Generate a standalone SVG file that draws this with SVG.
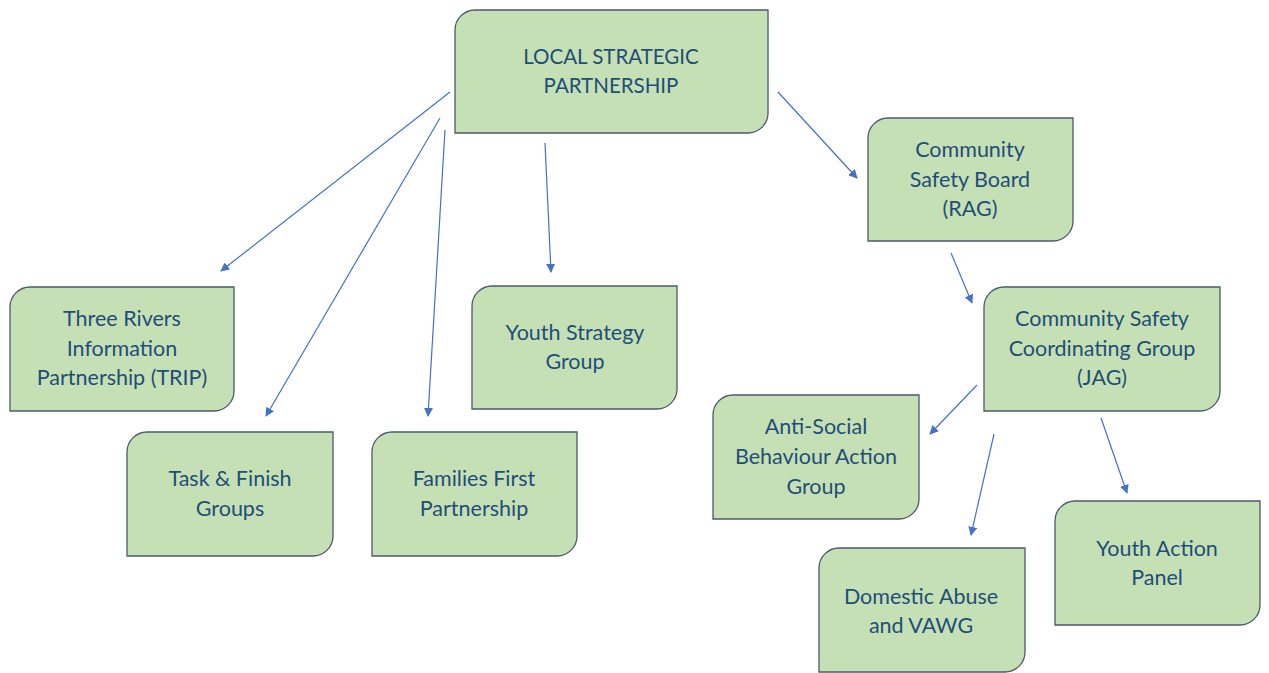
<svg xmlns="http://www.w3.org/2000/svg" width="1269" height="673" viewBox="0 0 1269 673">
<style>
.box{fill:#C5E0B4;stroke:#4A5A6E;stroke-width:1.3}
.t{font-family:Lato,"Liberation Sans",sans-serif;font-size:21.5px;fill:#1F4E79;text-anchor:middle;dominant-baseline:central}
.caps{font-size:20.5px}
.c{stroke:#4472C4;stroke-width:1.2;fill:none;marker-end:url(#ah)}
</style>
<defs>
<marker id="ah" viewBox="0 0 10 10" refX="9" refY="5" markerWidth="9" markerHeight="9" markerUnits="userSpaceOnUse" orient="auto">
<path d="M0,0 L10,5 L0,10 Z" fill="#4472C4"/>
</marker>
</defs>
<rect width="1269" height="673" fill="#FFFFFF"/>
<g id="connectors">
<line class="c" x1="450" y1="92" x2="221" y2="271"/>
<line class="c" x1="440" y1="118" x2="266" y2="416"/>
<line class="c" x1="445" y1="130" x2="428" y2="416"/>
<line class="c" x1="545" y1="143" x2="551" y2="272"/>
<line class="c" x1="778" y1="92" x2="857" y2="178"/>
<line class="c" x1="951" y1="253" x2="972" y2="303"/>
<line class="c" x1="977" y1="385" x2="930" y2="434"/>
<line class="c" x1="994" y1="434" x2="971" y2="535"/>
<line class="c" x1="1101" y1="418" x2="1127" y2="493"/>
</g>
<g id="lsp">
<path class="box" d="M475,10 H768 V113 A20,20 0 0 1 748,133 H455 V30 A20,20 0 0 1 475,10 Z"/>
<text class="t caps" x="611" y="56">LOCAL STRATEGIC</text>
<text class="t caps" x="611" y="85">PARTNERSHIP</text>
</g>
<g id="trip">
<path class="box" d="M30,287 H234 V391 A20,20 0 0 1 214,411 H10 V307 A20,20 0 0 1 30,287 Z"/>
<text class="t" x="122" y="318">Three Rivers</text>
<text class="t" x="122" y="348">Information</text>
<text class="t" x="122" y="377">Partnership (TRIP)</text>
</g>
<g id="task">
<path class="box" d="M147,432 H333 V536 A20,20 0 0 1 313,556 H127 V452 A20,20 0 0 1 147,432 Z"/>
<text class="t" x="230" y="478">Task &amp; Finish</text>
<text class="t" x="230" y="508">Groups</text>
</g>
<g id="families">
<path class="box" d="M392,432 H577 V536 A20,20 0 0 1 557,556 H372 V452 A20,20 0 0 1 392,432 Z"/>
<text class="t" x="474" y="478">Families First</text>
<text class="t" x="474" y="508">Partnership</text>
</g>
<g id="youthstrategy">
<path class="box" d="M492,286 H677 V389 A20,20 0 0 1 657,409 H472 V306 A20,20 0 0 1 492,286 Z"/>
<text class="t" x="575" y="332">Youth Strategy</text>
<text class="t" x="575" y="361">Group</text>
</g>
<g id="csb">
<path class="box" d="M888,118 H1073 V221 A20,20 0 0 1 1053,241 H868 V138 A20,20 0 0 1 888,118 Z"/>
<text class="t" x="970" y="149">Community</text>
<text class="t" x="970" y="179">Safety Board</text>
<text class="t" x="970" y="208">(RAG)</text>
</g>
<g id="cscg">
<path class="box" d="M1004,287 H1220 V391 A20,20 0 0 1 1200,411 H984 V307 A20,20 0 0 1 1004,287 Z"/>
<text class="t" x="1102" y="318">Community Safety</text>
<text class="t" x="1102" y="348">Coordinating Group</text>
<text class="t" x="1102" y="377">(JAG)</text>
</g>
<g id="asb">
<path class="box" d="M733,395 H919 V499 A20,20 0 0 1 899,519 H713 V415 A20,20 0 0 1 733,395 Z"/>
<text class="t" x="816" y="426">Anti-Social</text>
<text class="t" x="816" y="456">Behaviour Action</text>
<text class="t" x="816" y="486">Group</text>
</g>
<g id="domestic">
<path class="box" d="M839,548 H1025 V652 A20,20 0 0 1 1005,672 H819 V568 A20,20 0 0 1 839,548 Z"/>
<text class="t" x="921" y="596">Domestic Abuse</text>
<text class="t" x="921" y="625">and VAWG</text>
</g>
<g id="yap">
<path class="box" d="M1075,501 H1260 V605 A20,20 0 0 1 1240,625 H1055 V521 A20,20 0 0 1 1075,501 Z"/>
<text class="t" x="1157" y="548">Youth Action</text>
<text class="t" x="1157" y="577">Panel</text>
</g>
</svg>
